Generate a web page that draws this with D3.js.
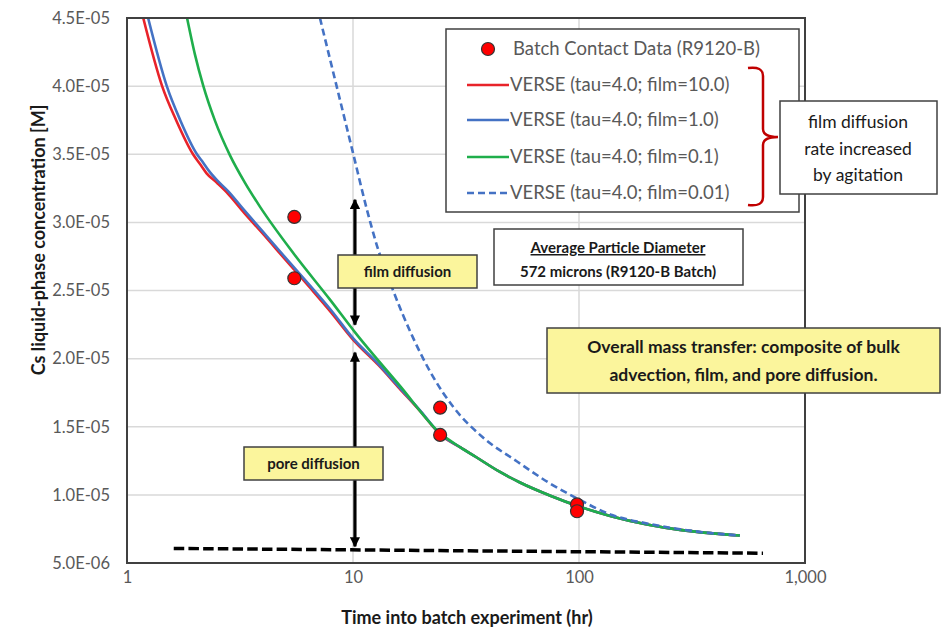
<!DOCTYPE html>
<html>
<head>
<meta charset="utf-8">
<script src="https://cdn.jsdelivr.net/npm/d3@7"></script>
<style>
  html, body { margin: 0; padding: 0; background: #fff; }
  svg { display: block; font-family: Lato, "Open Sans", sans-serif; }
</style>
</head>
<body>
<svg id="chart" width="942" height="631"></svg>
<script>
// ---------------- DATA ----------------
// concentrations below are given in units of 1e-5 M
const xTickValues = [1, 10, 100, 1000];
const xTickLabels = ["1", "10", "100", "1,000"];
const yTickValues = [0.5, 1.0, 1.5, 2.0, 2.5, 3.0, 3.5, 4.0, 4.5];
const yTickLabels = ["5.0E-06", "1.0E-05", "1.5E-05", "2.0E-05", "2.5E-05", "3.0E-05", "3.5E-05", "4.0E-05", "4.5E-05"];

// Batch contact data (R9120-B)
const dataTime = [5.5, 5.5, 24.3, 24.3, 98, 98];
const dataConc = [3.04, 2.59, 1.64, 1.44, 0.93, 0.88];

// shared long-time tail of the VERSE curves
const tailTime = [30.0, 35.0, 44.7, 54.8, 75.2, 100, 140, 200, 280, 380, 515];
const tailConc = [1.347, 1.278, 1.168, 1.091, 0.992, 0.915, 0.842, 0.783, 0.743, 0.719, 0.702];

// VERSE tau=4.0; film=10.0
const redTime = [1.18, 1.43, 1.65, 1.96, 2.10, 2.25, 2.5, 2.8, 3.3, 4.0, 5.0, 6.5, 8.0, 10, 13, 16, 20, 24.3];
const redConc = [4.50, 4.00, 3.75, 3.50, 3.43, 3.36, 3.29, 3.21, 3.07, 2.915, 2.73, 2.515, 2.34, 2.14, 1.95, 1.784, 1.607, 1.443];

// VERSE tau=4.0; film=1.0
const blueTime = [1.24, 1.50, 1.72, 2.04, 2.17, 2.30, 2.5, 2.8, 3.3, 4.0, 5.0, 6.5, 8.0, 10, 13, 16, 20, 24.3];
const blueConc = [4.50, 4.00, 3.75, 3.50, 3.44, 3.38, 3.31, 3.23, 3.09, 2.93, 2.745, 2.53, 2.355, 2.15, 1.958, 1.79, 1.612, 1.446];

// VERSE tau=4.0; film=0.1
const greenTime = [1.844, 2.0, 2.169, 2.452, 2.856, 3.328, 3.88, 5.43, 7.91, 10.23, 16.1, 24.4];
const greenConc = [4.50, 4.229, 4.009, 3.745, 3.492, 3.290, 3.114, 2.777, 2.433, 2.191, 1.802, 1.450];

// VERSE tau=4.0; film=0.01
const dashTime = [7.14, 8.5, 10.0, 11.53, 12.77, 14.88, 18.43, 22.59, 27.7, 37.6, 53.2, 74.4, 98, 140, 200, 280, 380, 515];
const dashConc = [4.50, 3.987, 3.51, 3.092, 2.828, 2.521, 2.154, 1.868, 1.648, 1.421, 1.245, 1.084, 0.974, 0.852, 0.79, 0.748, 0.72, 0.702];

// equilibrium (black dashed) line
const eqTime = [1.61, 652];
const eqConc = [0.607, 0.572];

const legendLabels = [
  "Batch Contact Data (R9120-B)",
  "VERSE (tau=4.0; film=10.0)",
  "VERSE (tau=4.0; film=1.0)",
  "VERSE (tau=4.0; film=0.1)",
  "VERSE (tau=4.0; film=0.01)"
];

// ---------------- DRAWING ----------------
const svg = d3.select("#chart");
const plot = { left: 127, right: 805, top: 18, bottom: 563 };

const x = d3.scaleLog().domain([1, 1000]).range([plot.left, plot.right]);
const y = d3.scaleLinear().domain([0.5, 4.5]).range([plot.bottom, plot.top]);

const zip = (t, c) => t.map((d, i) => ({ t: d, c: c[i] }));

svg.append("rect").attr("width", 942).attr("height", 631).attr("fill", "#fff");

// gridlines
svg.append("g").selectAll("line").data(yTickValues.slice(1, -1)).join("line")
  .attr("x1", plot.left).attr("x2", plot.right)
  .attr("y1", d => y(d)).attr("y2", d => y(d))
  .attr("stroke", "#d9d9d9").attr("stroke-width", 1.5);
svg.append("g").selectAll("line").data(xTickValues.slice(1, -1)).join("line")
  .attr("x1", d => x(d)).attr("x2", d => x(d))
  .attr("y1", plot.top).attr("y2", plot.bottom)
  .attr("stroke", "#d9d9d9").attr("stroke-width", 1.5);

// axes (labels only)
const yAxis = d3.axisLeft(y).tickValues(yTickValues)
  .tickFormat((d, i) => yTickLabels[i]).tickSize(0).tickPadding(17);
svg.append("g").attr("transform", `translate(${plot.left},0)`).call(yAxis)
  .call(g => g.select(".domain").remove())
  .selectAll("text").attr("font-family", "Lato").attr("font-size", 16.5).attr("fill", "#595959");

const xAxis = d3.axisBottom(x).tickValues(xTickValues)
  .tickFormat((d, i) => xTickLabels[i]).tickSize(0).tickPadding(8);
svg.append("g").attr("transform", `translate(0,${plot.bottom})`).call(xAxis)
  .call(g => g.select(".domain").remove())
  .selectAll("text").attr("font-family", "Lato").attr("font-size", 16.5).attr("fill", "#595959");

// axis titles
svg.append("text").attr("x", 467).attr("y", 624).attr("text-anchor", "middle")
  .attr("font-size", 18).attr("font-weight", "bold").attr("fill", "#1a1a1a")
  .text("Time into batch experiment (hr)");
svg.append("text").attr("transform", "translate(45,240) rotate(-90)").attr("text-anchor", "middle")
  .attr("font-size", 18).attr("font-weight", "bold").attr("fill", "#1a1a1a")
  .text("Cs liquid-phase concentration [M]");

// clip
svg.append("clipPath").attr("id", "clip").append("rect")
  .attr("x", plot.left).attr("y", plot.top)
  .attr("width", plot.right - plot.left).attr("height", plot.bottom - plot.top);

const line = d3.line().x(d => x(d.t)).y(d => y(d.c)).curve(d3.curveMonotoneX);
const curves = svg.append("g").attr("clip-path", "url(#clip)");

// equilibrium dashed line
curves.append("path").datum(zip(eqTime, eqConc)).attr("d", line)
  .attr("fill", "none").attr("stroke", "#000").attr("stroke-width", 3.5)
  .attr("stroke-dasharray", "10.5,4.2");

const series = [
  { t: redTime.concat(tailTime), c: redConc.concat(tailConc), color: "#e8232a", dash: null },
  { t: blueTime.concat(tailTime), c: blueConc.concat(tailConc), color: "#4472c4", dash: null },
  { t: greenTime.concat(tailTime), c: greenConc.concat(tailConc), color: "#1fae4b", dash: null },
  { t: dashTime, c: dashConc, color: "#4472c4", dash: "7,4" }
];
series.forEach(s => {
  curves.append("path").datum(zip(s.t, s.c)).attr("d", line)
    .attr("fill", "none").attr("stroke", s.color).attr("stroke-width", 2.6)
    .attr("stroke-dasharray", s.dash);
});

// plot frame
svg.append("rect").attr("x", plot.left).attr("y", plot.top)
  .attr("width", plot.right - plot.left).attr("height", plot.bottom - plot.top)
  .attr("fill", "none").attr("stroke", "#404040").attr("stroke-width", 2);

// arrows
const defs = svg.append("defs");
defs.append("marker").attr("id", "ah").attr("viewBox", "0 0 10 10")
  .attr("refX", 9).attr("refY", 5).attr("markerWidth", 3.4).attr("markerHeight", 3.2)
  .attr("markerUnits", "strokeWidth").attr("orient", "auto-start-reverse")
  .append("path").attr("d", "M0,0 L10,5 L0,10 Z").attr("fill", "#000");

const arrowT = 10.2;
[[3.166, 2.249], [2.044, 0.622]].forEach(([a, b]) => {
  svg.append("line").attr("x1", x(arrowT)).attr("x2", x(arrowT))
    .attr("y1", y(a)).attr("y2", y(b))
    .attr("stroke", "#000").attr("stroke-width", 3.2)
    .attr("marker-start", "url(#ah)").attr("marker-end", "url(#ah)");
});

// data points
svg.append("g").selectAll("circle").data(zip(dataTime, dataConc)).join("circle")
  .attr("cx", d => x(d.t)).attr("cy", d => y(d.c)).attr("r", 6.5)
  .attr("fill", "#ff0000").attr("stroke", "#333").attr("stroke-width", 1.2);

// yellow label boxes
function yellowBox(x0, y0, w, h, lines, fs, lh) {
  svg.append("rect").attr("x", x0).attr("y", y0).attr("width", w).attr("height", h)
    .attr("fill", "#fbf59c").attr("stroke", "#404040").attr("stroke-width", 1.5);
  const t = svg.append("text").attr("text-anchor", "middle")
    .attr("font-size", fs).attr("font-weight", "bold").attr("fill", "#1a1a1a");
  lines.forEach((l, i) => {
    t.append("tspan").attr("x", x0 + w / 2)
      .attr("y", y0 + h / 2 + (i - (lines.length - 1) / 2) * lh)
      .attr("dy", "0.35em").text(l);
  });
}
yellowBox(338, 255, 139, 33, ["film diffusion"], 15, 0);
yellowBox(244, 447, 139, 33, ["pore diffusion"], 15, 0);
yellowBox(547, 328, 393, 65, ["Overall mass transfer: composite of bulk", "advection, film, and pore diffusion."], 17.5, 28);

// particle diameter box
svg.append("rect").attr("x", 494).attr("y", 229).attr("width", 249).attr("height", 56)
  .attr("fill", "#fff").attr("stroke", "#404040").attr("stroke-width", 1.5);
svg.append("text").attr("x", 618).attr("y", 253).attr("text-anchor", "middle")
  .attr("font-size", 15).attr("font-weight", "bold").attr("fill", "#1a1a1a")
  .attr("text-decoration", "underline").text("Average Particle Diameter");
svg.append("text").attr("x", 618).attr("y", 277).attr("text-anchor", "middle")
  .attr("font-size", 15).attr("font-weight", "bold").attr("fill", "#1a1a1a")
  .text("572 microns (R9120-B Batch)");

// legend
const lg = svg.append("g");
lg.append("rect").attr("x", 446).attr("y", 29).attr("width", 353).attr("height", 183)
  .attr("fill", "#fff").attr("stroke", "#404040").attr("stroke-width", 1.5);
const legY = [49, 85, 120, 157, 193];
lg.append("circle").attr("cx", 488).attr("cy", legY[0]).attr("r", 6.5)
  .attr("fill", "#ff0000").attr("stroke", "#333").attr("stroke-width", 1.2);
series.forEach((s, i) => {
  lg.append("line").attr("x1", 467).attr("x2", 509)
    .attr("y1", legY[i + 1]).attr("y2", legY[i + 1])
    .attr("stroke", s.color).attr("stroke-width", 2.6).attr("stroke-dasharray", s.dash);
});
legendLabels.forEach((l, i) => {
  lg.append("text").attr("x", i === 0 ? 513 : 510).attr("y", legY[i]).attr("dy", "0.35em")
    .attr("font-size", 18.5).attr("fill", "#595959").text(l);
});

// bracket
svg.append("path")
  .attr("d", "M748,68 Q763,66 763,76 L763,129 Q763,137 778,137 Q763,137 763,145 L763,197 Q763,207 748,205")
  .attr("fill", "none").attr("stroke", "#c00000").attr("stroke-width", 2.5);

// film diffusion rate box
svg.append("rect").attr("x", 780).attr("y", 101).attr("width", 157).attr("height", 93)
  .attr("fill", "#fff").attr("stroke", "#404040").attr("stroke-width", 1.5);
const ft = svg.append("text").attr("text-anchor", "middle").attr("font-size", 17.5).attr("fill", "#1a1a1a");
["film diffusion", "rate increased", "by agitation"].forEach((l, i) => {
  ft.append("tspan").attr("x", 858).attr("y", 122 + i * 26.5).attr("dy", "0.35em").text(l);
});
</script>
</body>
</html>
